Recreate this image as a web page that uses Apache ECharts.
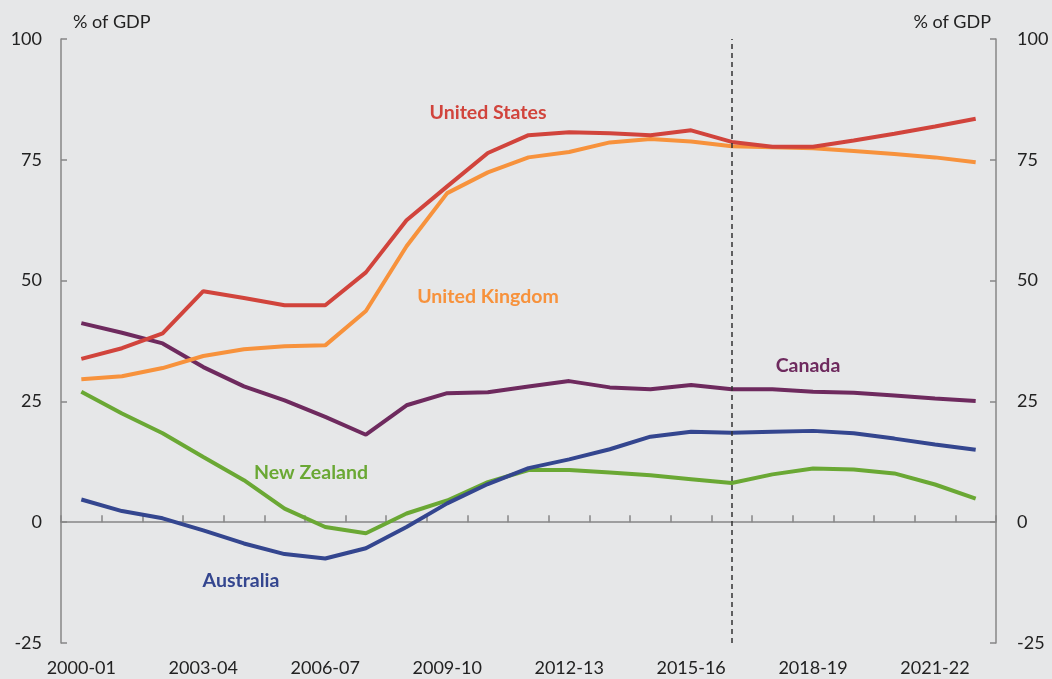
<!DOCTYPE html>
<html>
<head>
<meta charset="utf-8">
<script src="https://cdn.jsdelivr.net/npm/echarts@6/dist/echarts.min.js"></script>
<style>
html,body{margin:0;padding:0;background:#e6e7e8;}
#c{width:1052px;height:679px;}
</style>
</head>
<body>
<div id="c"></div>
<script>
const categories = ['2000-01','2001-02','2002-03','2003-04','2004-05','2005-06','2006-07','2007-08','2008-09','2009-10','2010-11','2011-12','2012-13','2013-14','2014-15','2015-16','2016-17','2017-18','2018-19','2019-20','2020-21','2021-22','2022-23'];
const unitedStates  = [33.8,36.0,39.1,47.8,46.4,44.9,44.9,51.7,62.5,69.5,76.4,80.1,80.7,80.5,80.1,81.1,78.7,77.7,77.7,79.0,80.4,81.9,83.5];
const unitedKingdom = [29.6,30.2,31.9,34.4,35.8,36.4,36.6,43.7,57.1,68.1,72.4,75.5,76.6,78.6,79.3,78.8,77.8,77.6,77.4,76.8,76.2,75.5,74.5];
const canada        = [41.2,39.2,37.0,32.1,28.1,25.2,21.8,18.1,24.2,26.7,26.9,28.1,29.2,27.9,27.5,28.4,27.5,27.5,27.0,26.8,26.2,25.6,25.1];
const newZealand    = [27.0,22.5,18.4,13.5,8.7,2.8,-1.0,-2.3,1.8,4.5,8.3,10.8,10.8,10.3,9.7,8.9,8.1,9.9,11.1,10.9,10.1,7.8,4.9];
const australia     = [4.7,2.3,0.8,-1.7,-4.4,-6.6,-7.5,-5.4,-1.0,3.9,7.9,11.2,13.0,15.1,17.7,18.7,18.5,18.7,18.9,18.4,17.3,16.1,15.0];
const yTicks = {min:-25, max:100, interval:25};
const projectionStart = '2016-17';

const axisColor = '#878787';
const font = 'Lato';
const chart = echarts.init(document.getElementById('c'));
function line(name, data, color, extra) {
  return Object.assign({
    name: name, type: 'line', data: data, symbol: 'none',
    lineStyle: {color: color, width: 4}, itemStyle: {color: color},
    z: 3, silent: true
  }, extra || {});
}
chart.setOption({
  backgroundColor: '#e6e7e8',
  animation: false,
  grid: {left: 61, right: 56, top: 39, bottom: 36},
  xAxis: [
    {
      type: 'category', data: categories, boundaryGap: true,
      axisLine: {show: false}, axisTick: {show: false},
      axisLabel: {interval: 2, color: '#222', fontFamily: font, fontSize: 18, margin: 16},
      splitLine: {show: false}
    },
    {
      type: 'category', data: categories, boundaryGap: true,
      axisLine: {show: true, onZero: true, onZeroAxisIndex: 0, lineStyle: {color: axisColor, width: 1.5}},
      axisTick: {show: true, interval: 0, length: 7, lineStyle: {color: axisColor, width: 1.5}},
      axisLabel: {show: false}, splitLine: {show: false}
    }
  ],
  yAxis: [
    {
      type: 'value', min: yTicks.min, max: yTicks.max, interval: yTicks.interval, position: 'left',
      name: '% of GDP', nameLocation: 'end', nameGap: 17,
      nameTextStyle: {color: '#222', fontFamily: font, fontSize: 18, align: 'left', verticalAlign: 'middle', padding: [0,0,0,12]},
      axisLine: {show: true, lineStyle: {color: axisColor, width: 1.5}},
      axisTick: {show: true, inside: true, length: 6, lineStyle: {color: axisColor, width: 1.5}},
      axisLabel: {color: '#222', fontFamily: font, fontSize: 18, margin: 19},
      splitLine: {show: false}
    },
    {
      type: 'value', min: yTicks.min, max: yTicks.max, interval: yTicks.interval, position: 'right',
      name: '% of GDP', nameLocation: 'end', nameGap: 17,
      nameTextStyle: {color: '#222', fontFamily: font, fontSize: 18, align: 'right', verticalAlign: 'middle', padding: [0,5,0,0]},
      axisLine: {show: true, lineStyle: {color: axisColor, width: 1.5}},
      axisTick: {show: true, inside: true, length: 6, lineStyle: {color: axisColor, width: 1.5}},
      axisLabel: {color: '#222', fontFamily: font, fontSize: 18, margin: 21},
      splitLine: {show: false}
    }
  ],
  series: [
    line('Canada', canada, '#6e2a5e', {markLine: {
      silent: true, symbol: 'none', label: {show: false},
      lineStyle: {color: '#333', type: [5,4], width: 1.5},
      data: [{xAxis: projectionStart}]
    }}),
    line('United Kingdom', unitedKingdom, '#f7923c'),
    line('United States', unitedStates, '#d1443c'),
    line('New Zealand', newZealand, '#6aa834'),
    line('Australia', australia, '#34468f')
  ],
  graphic: [
    {type:'text', x:488, y:113, style:{text:'United States', fill:'#d1443c', font:'bold 19.5px '+font, align:'center', verticalAlign:'middle'}},
    {type:'text', x:488, y:297, style:{text:'United Kingdom', fill:'#f7923c', font:'bold 19.5px '+font, align:'center', verticalAlign:'middle'}},
    {type:'text', x:808, y:366, style:{text:'Canada', fill:'#6e2a5e', font:'bold 19.5px '+font, align:'center', verticalAlign:'middle'}},
    {type:'text', x:311, y:473, style:{text:'New Zealand', fill:'#6aa834', font:'bold 19.5px '+font, align:'center', verticalAlign:'middle'}},
    {type:'text', x:241, y:581, style:{text:'Australia', fill:'#34468f', font:'bold 19.5px '+font, align:'center', verticalAlign:'middle'}}
  ]
});
</script>
</body>
</html>
